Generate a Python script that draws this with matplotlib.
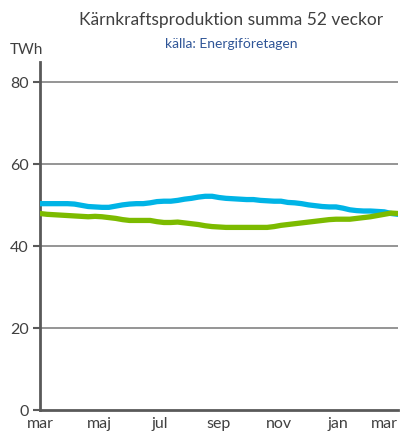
import matplotlib
matplotlib.use('Agg')
import matplotlib.pyplot as plt
import numpy as np

plt.rcParams['font.family'] = ['Lato', 'DejaVu Sans']

# weekly 52-week rolling sums, TWh
weeks = np.arange(53)
blue_series = [50.4, 50.4, 50.4, 50.4, 50.4, 50.3, 50.0, 49.7, 49.6, 49.5,
               49.5, 49.8, 50.1, 50.3, 50.4, 50.4, 50.6, 50.9, 51.0, 51.0,
               51.2, 51.5, 51.7, 52.0, 52.2, 52.2, 51.9, 51.7, 51.6, 51.5,
               51.4, 51.4, 51.2, 51.1, 51.0, 51.0, 50.7, 50.6, 50.4, 50.1,
               49.9, 49.7, 49.6, 49.6, 49.3, 48.9, 48.7, 48.6, 48.6, 48.5,
               48.4, 48.0, 47.8]
green_series = [48.0, 47.8, 47.7, 47.6, 47.5, 47.4, 47.3, 47.2, 47.3, 47.2,
                47.0, 46.8, 46.5, 46.3, 46.3, 46.3, 46.3, 46.0, 45.8, 45.8,
                45.9, 45.7, 45.5, 45.3, 45.0, 44.8, 44.7, 44.6, 44.6, 44.6,
                44.6, 44.6, 44.6, 44.6, 44.8, 45.1, 45.3, 45.5, 45.7, 45.9,
                46.1, 46.3, 46.5, 46.6, 46.6, 46.6, 46.8, 47.0, 47.2, 47.5,
                47.8, 48.1, 48.0]
month_labels = ['mar', 'maj', 'jul', 'sep', 'nov', 'jan', 'mar']
y_ticks = [0, 20, 40, 60, 80]

fig = plt.figure(figsize=(4.09, 4.36), dpi=100)
ax = fig.add_axes([40 / 409, 26 / 436, 358 / 409, 348 / 436])

for y in y_ticks[1:]:
    ax.axhline(y, color='#8c8c8c', lw=1.3, zorder=1)

ax.plot(weeks, blue_series, color='#00b4e6', lw=3.8, solid_capstyle='round', zorder=3)
ax.plot(weeks, green_series, color='#7cbb00', lw=3.8, solid_capstyle='round', zorder=3)

ax.set_xlim(0, 52)
ax.set_ylim(0, 85)
ax.set_yticks(y_ticks)
ax.set_xticks(np.linspace(0, 52, 7))
ax.set_xticklabels(month_labels)
# last label would run off the edge, pull it inside like the original
ax.get_xticklabels()[-1].set_horizontalalignment('right')

for s in ['top', 'right']:
    ax.spines[s].set_visible(False)
for s in ['left', 'bottom']:
    ax.spines[s].set_color('#595959')
    ax.spines[s].set_linewidth(2)

ax.tick_params(axis='y', direction='out', length=5, width=1.5, color='#595959',
               labelsize=11.5, labelcolor='#404040', pad=3)
ax.tick_params(axis='x', length=0, labelsize=11.5, labelcolor='#404040', pad=5)

fig.text(231 / 409, 1 - 20 / 436, 'Kärnkraftsproduktion summa 52 veckor',
         ha='center', va='center', fontsize=12.5, color='#404040')
fig.text(231 / 409, 1 - 44 / 436, 'källa: Energiföretagen',
         ha='center', va='center', fontsize=10, color='#2f5597')
fig.text(26 / 409, 1 - 50 / 436, 'TWh', ha='center', va='center',
         fontsize=11, color='#404040')

fig.savefig('out.png', dpi=100)
